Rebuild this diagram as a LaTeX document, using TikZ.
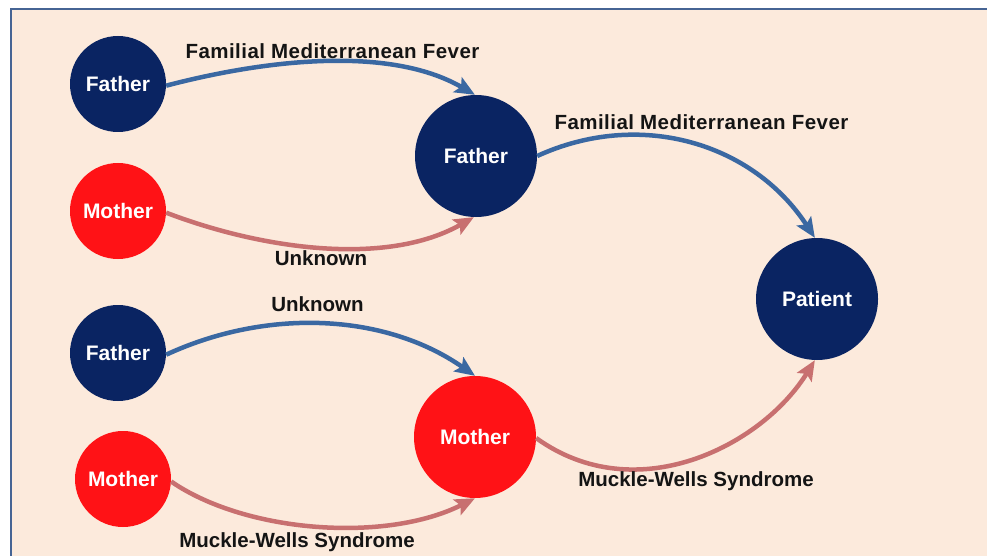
\documentclass[tikz,border=0pt]{standalone}
\usepackage{fontspec}
\setmainfont{Liberation Sans}
\usetikzlibrary{arrows.meta}
\definecolor{bgpeach}{RGB}{252,234,220}
\definecolor{frameblue}{RGB}{70,100,148}
\definecolor{navy}{RGB}{10,36,98}
\definecolor{redfill}{RGB}{255,18,22}
\definecolor{blueedge}{RGB}{58,104,162}
\definecolor{pinkedge}{RGB}{200,112,112}
\begin{document}
\begin{tikzpicture}[x=1pt,y=-1pt,
  person/.style={circle, inner sep=0pt, text=white,
    font=\bfseries\fontsize{21}{24}\selectfont},
  small/.style={person, minimum size=96pt},
  big/.style={person, minimum size=122pt},
  male/.style={fill=navy},
  female/.style={fill=redfill},
  link/.style={line width=4.5pt, -{Stealth[length=20pt,width=17pt,inset=4pt]}},
  paternal/.style={link, draw=blueedge},
  maternal/.style={link, draw=pinkedge},
  lbl/.style={anchor=base, text=black!92, inner sep=0pt,
    font=\bfseries\fontsize{20.5}{24}\selectfont},
  widelbl/.style={lbl, font=\bfseries\fontsize{20.5}{24}\selectfont\addfontfeatures{LetterSpace=2.2}},
]
\useasboundingbox (0,0) rectangle (987,556);
% page and framed panel
\fill[white] (0,0) rectangle (987,556);
\fill[bgpeach] (10.5,9.5) rectangle (990,560);
\draw[frameblue, line width=2pt] (10.5,560) -- (10.5,9.5) -- (990,9.5);

% people
\node[small, male]   (f1) at (118,84)  {Father};
\node[small, female] (m1) at (118,211) {Mother};
\node[small, male]   (f3) at (118,353) {Father};
\node[small, female] (m3) at (123,479) {Mother};
\node[big, male]     (f2) at (476,156) {Father};
\node[big, female]   (m2) at (475,437) {Mother};
\node[big, male]     (pt) at (817,299) {Patient};

% inheritance links
\draw[paternal] (f1.-2) .. controls (264,60) and (389,45) .. (f2.91);
\draw[maternal] (m1.-2) .. controls (261,249) and (386,267) .. (f2.-92);
\draw[paternal] (f2.0) .. controls (640,109) and (753,143) .. (pt.92);
\draw[paternal] (f3.-2) .. controls (267,308) and (385,313) .. (m2.90);
\draw[maternal] (m3.-3) .. controls (246,533) and (386,543) .. (m2.-90);
\draw[maternal] (m2.-1) .. controls (636,510) and (762,446) .. (pt.-92);

% link labels
\node[widelbl] (l1) at (332.5,59) {Familial Mediterranean Fever};
\node[lbl]     (l2) at (321,265)  {Unknown};
\node[widelbl] (l3) at (701.5,130) {Familial Mediterranean Fever};
\node[lbl]     (l4) at (317.5,311) {Unknown};
\node[lbl]     (l5) at (297,547)  {Muckle-Wells Syndrome};
\node[lbl]     (l6) at (696,486)  {Muckle-Wells Syndrome};
\end{tikzpicture}
\end{document}
